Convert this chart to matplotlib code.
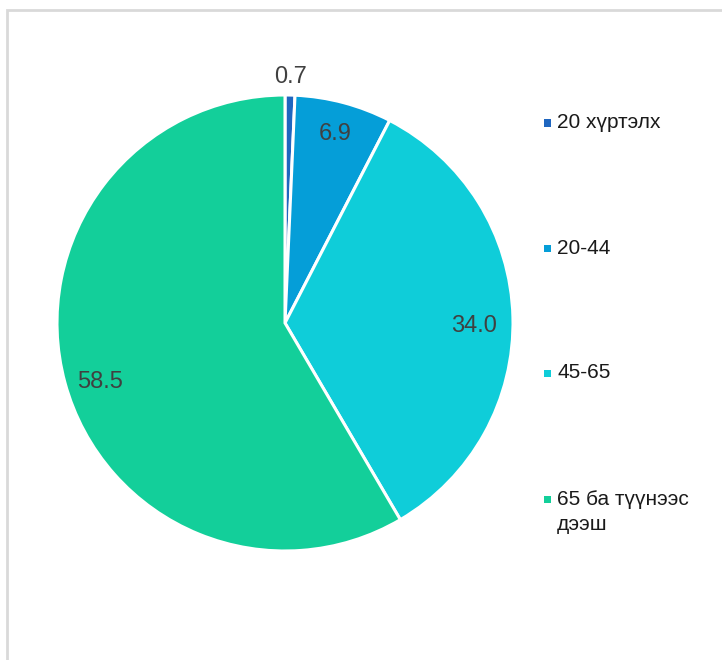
import numpy as np
import matplotlib.pyplot as plt
from matplotlib.patches import Rectangle

plt.rcParams['font.family'] = ['Liberation Sans', 'DejaVu Sans']

# data
categories = ['20 хүртэлх', '20-44', '45-65', '65 ба түүнээс\nдээш']
values = [0.7, 6.9, 34.0, 58.5]
value_labels = ['0.7', '6.9', '34.0', '58.5']
colors = ['#1F66BF', '#059ED8', '#0FCDD9', '#13CF9A']

W, H = 722, 660
fig = plt.figure(figsize=(W / 100, H / 100), dpi=100)

# light gray chart frame (cut off on right and bottom)
fig.patches.append(Rectangle((6.5 / W, -0.1), 1.2, 1 - 10.5 / H + 0.1,
                             transform=fig.transFigure, fill=False,
                             edgecolor='#D9D9D9', linewidth=2))

cx, cy, r = 285, 323, 228
ax = fig.add_axes([(cx - r) / W, (H - cy - r) / H, 2 * r / W, 2 * r / H])
wedges, _ = ax.pie(values, colors=colors, startangle=90, counterclock=False,
                   radius=1, wedgeprops=dict(edgecolor='white', linewidth=2.2))
ax.set_xlim(-1, 1)
ax.set_ylim(-1, 1)
ax.set_aspect('equal')
ax.axis('off')

# value labels
for w, lab in zip(wedges, value_labels):
    ang = np.deg2rad((w.theta1 + w.theta2) / 2)
    if lab == '0.7':
        dist = 1.08
    elif lab == '58.5':
        ang += np.deg2rad(2.5)
        dist = 0.85
    elif lab == '34.0':
        ang -= np.deg2rad(2.5)
        dist = 0.83
    else:
        dist = 0.86
    ax.text(dist * np.cos(ang), dist * np.sin(ang), lab, ha='center',
            va='center', fontsize=17, color='#404040')

# legend
leg_y = [123, 248, 373, 499]
for lab, col, y in zip(categories, colors, leg_y):
    fig.patches.append(Rectangle((544 / W, 1 - (y + 3.5) / H), 7 / W, 7 / H,
                                 transform=fig.transFigure, facecolor=col,
                                 edgecolor='none'))
    if '\n' in lab:
        fig.text(557 / W, 1 - (y - 9) / H, lab, ha='left', va='top',
                 fontsize=15, color='#1a1a1a', linespacing=1.4)
    else:
        fig.text(557 / W, 1 - y / H, lab, ha='left', va='center',
                 fontsize=15, color='#1a1a1a')

fig.savefig('out.png', dpi=100)
